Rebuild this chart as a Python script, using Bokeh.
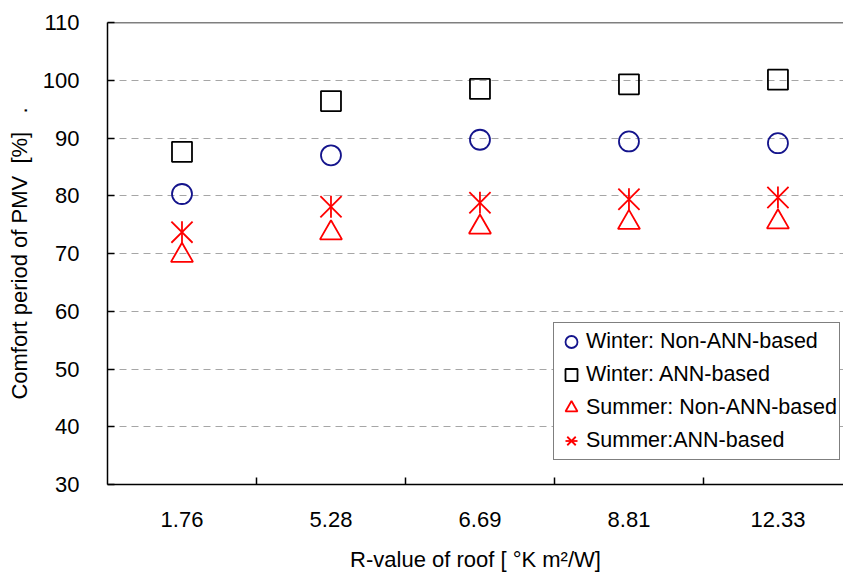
from bokeh.plotting import figure
from bokeh.models import (ColumnDataSource, FixedTicker, Range1d, Span, Legend, LegendItem)
from bokeh.transform import dodge
from bokeh.embed import file_html
from bokeh.resources import INLINE
import math

# ---- data ----
categories = ["1.76", "5.28", "6.69", "8.81", "12.33"]
winter_non_ann = [80.3, 87.0, 89.7, 89.4, 89.1]
winter_ann = [87.6, 96.4, 98.5, 99.3, 100.1]
summer_non_ann = [70.2, 74.1, 75.1, 75.9, 76.0]
summer_ann = [73.7, 78.1, 78.8, 79.4, 79.7]
y_ticks = [30, 40, 50, 60, 70, 80, 90, 100, 110]

x_pos = [i + 0.5 for i in range(len(categories))]
src = ColumnDataSource(dict(x=x_pos, wn=winter_non_ann, wa=winter_ann,
                            sn=summer_non_ann, sa=summer_ann))

FONT = "Liberation Sans"

p = figure(width=843, height=574, output_backend="svg", toolbar_location=None,
           x_range=Range1d(0, 4.94), y_range=Range1d(30, 110),
           min_border_left=107, min_border_top=22, min_border_bottom=90, min_border_right=0)
p.outline_line_color = None
p.background_fill_color = "white"
p.border_fill_color = "white"

# top frame line
p.add_layout(Span(location=110, dimension="width", line_color="black", line_width=1.5))

# x axis
xa = p.xaxis[0]
xa.ticker = FixedTicker(ticks=x_pos, minor_ticks=[1, 2, 3, 4])
xa.major_label_overrides = {x: c for x, c in zip(x_pos, categories)}
xa.major_tick_line_color = None
xa.minor_tick_in = 7
xa.minor_tick_out = 0
xa.minor_tick_line_color = "black"
xa.minor_tick_line_width = 1.5
xa.axis_line_color = "black"
xa.axis_line_width = 1.5
xa.major_label_standoff = 21
xa.major_label_text_font = FONT
xa.major_label_text_font_size = "22px"
xa.major_label_text_color = "black"
xa.axis_label = "R-value of roof [ \u00b0K m\u00b2/W]"
xa.axis_label_text_font = FONT
xa.axis_label_text_font_size = "22px"
xa.axis_label_text_font_style = "normal"
xa.axis_label_text_color = "black"
xa.axis_label_standoff = 17

# y axis
ya = p.yaxis[0]
ya.ticker = FixedTicker(ticks=y_ticks)
ya.major_tick_in = 7
ya.major_tick_out = 0
ya.major_tick_line_color = "black"
ya.major_tick_line_width = 1.5
ya.minor_tick_line_color = None
ya.axis_line_color = "black"
ya.axis_line_width = 1.5
ya.major_label_standoff = 28
ya.major_label_text_font = FONT
ya.major_label_text_font_size = "22px"
ya.major_label_text_color = "black"
ya.axis_label = "Comfort period of PMV\u00a0\u00a0[%]\u00a0\u00a0\u00a0."
ya.axis_label_text_font = FONT
ya.axis_label_text_font_size = "22px"
ya.axis_label_text_font_style = "normal"
ya.axis_label_text_color = "black"
ya.axis_label_standoff = 8

p.xgrid.visible = False
p.ygrid.ticker = FixedTicker(ticks=y_ticks)
p.ygrid.grid_line_color = "#a6a6a6"
p.ygrid.grid_line_dash = "7 5"
p.ygrid.grid_line_width = 1

# markers
r_circ = p.scatter("x", "wn", source=src, marker="circle", size=20,
                   fill_color=None, line_color="#14148c", line_width=1.8)
r_sq = p.scatter("x", "wa", source=src, marker="square", size=20,
                 fill_color=None, line_color="black", line_width=1.8)
r_tri = p.scatter("x", dodge("sn", -0.55), source=src, marker="triangle", size=22,
                  fill_color=None, line_color="#ff0000", line_width=1.8)
r_x = p.scatter("x", "sa", source=src, marker="x", size=30,
                line_color="#ff0000", line_width=1.8)
r_v = p.scatter("x", "sa", source=src, marker="dash", size=22, angle=math.pi / 2,
                line_color="#ff0000", line_width=1.8)

legend = Legend(items=[
    LegendItem(label="Winter: Non-ANN-based", renderers=[r_circ]),
    LegendItem(label="Winter: ANN-based", renderers=[r_sq]),
    LegendItem(label="Summer: Non-ANN-based", renderers=[r_tri]),
    LegendItem(label="Summer:ANN-based", renderers=[r_x, r_v]),
], location=(446, 24))
legend.label_text_font = FONT
legend.label_text_font_size = "21.5px"
legend.label_text_color = "black"
legend.glyph_width = 30
legend.glyph_height = 33
legend.label_height = 20
legend.spacing = 0
legend.padding = 2
legend.margin = 0
legend.label_standoff = 0
legend.border_line_color = "black"
legend.border_line_width = 1.5
legend.background_fill_color = "white"
legend.background_fill_alpha = 1.0
p.add_layout(legend, "center")

open("out.html", "w").write(file_html(p, INLINE))
